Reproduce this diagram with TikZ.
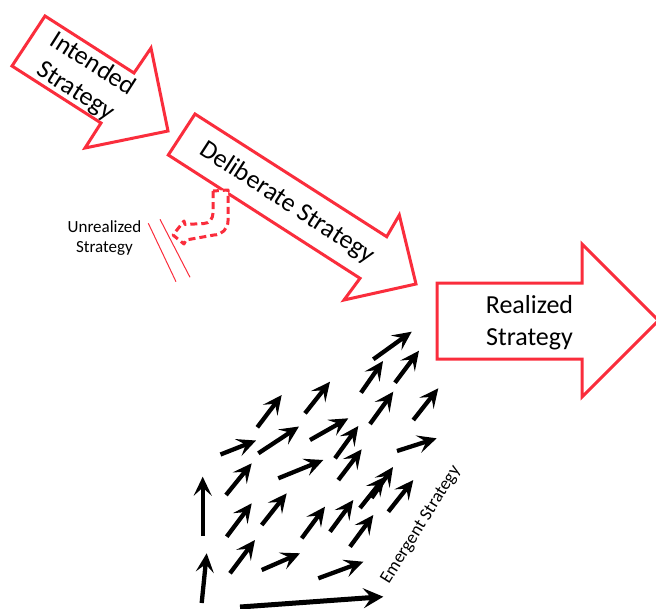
\documentclass[tikz,border=0pt]{standalone}
\usepackage{fontspec}
\setmainfont{Carlito}
\usetikzlibrary{arrows.meta}
\definecolor{sred}{RGB}{250,45,60}
\begin{document}
\begin{tikzpicture}[x=1pt,y=-1pt,
  bigarrow/.style={draw=sred,line width=3pt,fill=white,line join=miter},
  bigtext/.style={font=\fontsize{26}{32}\selectfont,align=center,inner sep=0pt},
  smalltext/.style={font=\fontsize{17}{20}\selectfont,align=center,inner sep=0pt},
  emarrow/.style={line width=4.3pt,-{Stealth[length=19pt,width=18pt,inset=8pt]}},
  dashbent/.style={draw=sred,line width=3pt,dash pattern=on 7pt off 4pt,fill=white,line join=round},
  thinred/.style={draw=sred,line width=1pt}
]
\useasboundingbox (0,0) rectangle (656,608);
% big hollow arrows
\draw[bigarrow] (45,16) -- (134,73) -- (151,48) -- (168,131) -- (85,148) -- (101,123) -- (12,66) -- cycle;
\draw[bigarrow] (195,114) -- (386.7,236.7) -- (399.3,215) -- (416,284) -- (344,300) -- (360,278.3) -- (168.3,155) -- cycle;
\draw[bigarrow] (437,283) -- (582,283) -- (582,244) -- (658.5,320.5) -- (582,397) -- (582,359) -- (437,359) -- cycle;
% texts
\node[bigtext,rotate=-32.5] (int) at (84,78) {Intended\\Strategy};
\node[bigtext,rotate=-33] (del) at (287,203) {Deliberate Strategy};
\node[bigtext] (real) at (529.5,323) {Realized\\Strategy};
\node[smalltext] (unr) at (104.5,238) {Unrealized\\Strategy};
\node[smalltext,font=\fontsize{18}{21}\selectfont,rotate=58] (em) at (421,525) {Emergent Strategy};
% unrealized marks
\draw[thinred] (148.3,223.3) -- (176,281.7);
\draw[thinred] (160,219.3) -- (190,277.3);
\draw[dashbent] (213,191) -- (213,213) to[out=-90,in=0] (204,223.5) -- (185,224.5) -- (184,221) -- (173,235) -- (184,244) -- (186,240) -- (214,235) to[out=0,in=-90] (228,221) -- (228,190) -- cycle;
% emergent arrows
\foreach \ax/\ay/\bx/\by in {
 202.7/536/202.7/476.7, 201.7/603/206.7/553.3, 230/573.3/255/540,
 261.7/570/300/553.3, 318.3/578.3/363.3/561.7, 226.7/536.7/251.7/503.3,
 261.7/525/286.7/493.3, 301.7/538.3/325/506.7, 330/531.7/353.3/500,
 350/546.7/373.3/515, 360/508/385/476.7, 371.7/498/393/467,
 388.3/511.7/413.3/480, 226/495/251.7/463.3, 278.3/478.3/323.3/460,
 338.3/480/361.7/449.3, 335/458.3/358.3/426, 310/440/348.3/418.3,
 258.3/453.3/299/426.5, 220.5/454.5/256/440.5, 257.3/427.3/281.7/395,
 305/413.3/330/381.7, 370/424/393.3/391.7, 397/451/436.7/438.3,
 413.3/420/438.3/388.3, 361/392.7/383/361, 395/382.7/419/350.7,
 373.3/359.3/411.7/331.7}
 \draw[emarrow] (\ax,\ay) -- (\bx,\by);
\draw[line width=5pt,-{Stealth[length=20pt,width=20pt,inset=8pt]}] (240,607) -- (383.3,596.7);
\end{tikzpicture}
\end{document}
